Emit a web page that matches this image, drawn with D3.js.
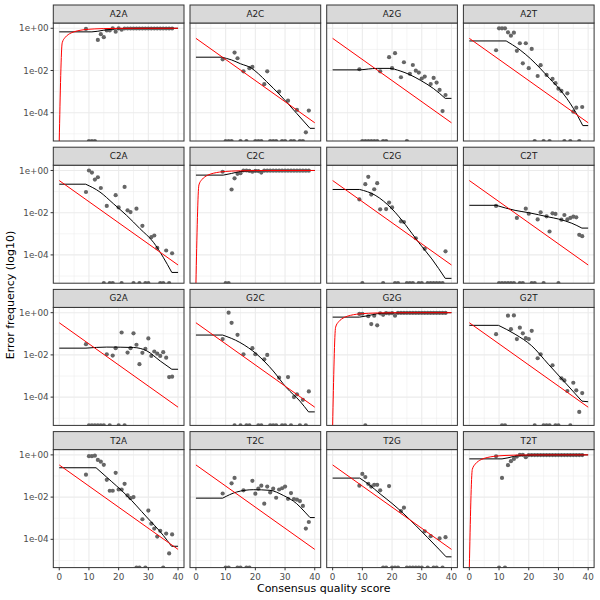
<!DOCTYPE html>
<html><head><meta charset="utf-8">
<script src="https://cdn.jsdelivr.net/npm/d3@7"></script>
<style>body{margin:0;background:#fff}svg{display:block}</style>
</head><body>
<svg id="chart" width="600" height="600"></svg>
<script>
// ---- DATA ----
const transitions = ["A2A","A2C","A2G","A2T","C2A","C2C","C2G","C2T","G2A","G2C","G2G","G2T","T2A","T2C","T2G","T2T"];
const xTicks = [0, 10, 20, 30, 40];
const xMinor = [5, 15, 25, 35];
const yTicks = [1, 1e-2, 1e-4];
const yTickLabels = ["1e+00", "1e-02", "1e-04"];
const yMinor = [1e-1, 1e-3, 1e-5];

// nominal error rates (Q, frequency)
const nominalOff = [[0, 0.3333], [40, 0.00003333]];
const nominalDiag = [[0,0],[1,0.2057],[2,0.3690],[3,0.4988],[4,0.6019],[5,0.6838],[6,0.7488],[7,0.8005],[8,0.8415],[9,0.8741],[10,0.9],[12,0.9369],[15,0.9684],[20,0.99],[25,0.9968],[30,0.999],[40,0.9999]];

// observed: [Q, log10 frequency]; zero*: Q with observed frequency 0
const obsA2A = [[9,-0.03],[13,-0.55],[14,-0.28],[15,-0.42],[16,-0.1],[17,-0.1],[18,0],[19,-0.16],[20,0],[21,-0.07],[22,-0.01],[23,-0.01],[24,-0.01],[25,-0.01],[26,-0.01],[27,-0.01],[28,-0.01],[29,-0.01],[30,-0.01],[31,-0.01],[32,-0.01],[33,-0.01],[34,-0.01],[35,-0.01],[36,-0.01],[37,-0.01],[38,-0.01]];
const zeroA2A = [10,11,12];
const obsA2C = [[9,-1.47],[13,-1.15],[14,-1.42],[16,-2.04],[18,-1.89],[19,-1.83],[23,-2.65],[24,-2.04],[28,-3.0],[31,-3.43],[34,-3.87],[37,-4.93],[38,-3.9]];
const zeroA2C = [10,11,12,15,17,20,21,22,25,26,27,29,30,32,33,35,36];
const obsA2G = [[9,-1.94],[16,-2.04],[19,-1.37],[20,-1.89],[21,-1.18],[23,-2.32],[24,-1.61],[26,-2.16],[27,-1.74],[28,-2.01],[29,-2.1],[30,-2.38],[31,-2.29],[33,-2.64],[34,-2.35],[35,-2.57],[36,-2.92],[37,-3.92],[38,-3.16]];
const zeroA2G = [10,11,12,13,14,15,17,18,25];
const obsA2T = [[9,-1.04],[10,0],[11,0],[12,0],[13,-0.19],[14,-0.35],[15,-0.21],[16,-1.07],[17,-0.71],[18,-1.66],[19,-0.71],[20,-1.89],[21,-0.98],[23,-2.26],[24,-1.75],[26,-2.21],[28,-2.4],[29,-2.6],[30,-2.86],[31,-2.97],[33,-3.08],[35,-3.95],[36,-3.76],[38,-3.73]];
const zeroA2T = [22,25,27,32,34,37];
const obsC2A = [[9,-1.02],[10,0],[11,-0.1],[12,-0.43],[13,-0.32],[14,-0.83],[16,-1.68],[19,-1.17],[20,-1.75],[22,-0.78],[23,-1.89],[24,-1.97],[26,-1.81],[28,-2.62],[31,-3.16],[32,-3.08],[33,-3.67],[36,-3.79],[38,-3.92]];
const zeroC2A = [15,17,18,21,25,27,29,30,34,35,37];
const obsC2C = [[9,-0.06],[12,-0.9],[13,-0.37],[14,-0.16],[15,-0.13],[16,0],[17,0],[18,-0.02],[19,-0.06],[20,-0.02],[21,-0.03],[22,-0.1],[23,-0.01],[24,-0.01],[25,-0.01],[26,-0.01],[27,-0.01],[28,-0.01],[29,-0.01],[30,-0.01],[31,-0.01],[32,-0.01],[33,-0.01],[34,-0.01],[35,-0.01],[36,-0.01],[37,-0.01],[38,-0.01]];
const zeroC2C = [10,11];
const obsC2G = [[9,-1.37],[11,-0.65],[12,-0.3],[13,-1.14],[14,-0.89],[15,-0.6],[16,-1.84],[18,-1.83],[19,-1.52],[20,-1.75],[23,-2.41],[24,-2.44],[28,-3.21],[31,-3.71],[38,-3.83]];
const zeroC2G = [10,17,21,22,25,26,27,29,30,32,33,34,35,36,37];
const obsC2T = [[9,-1.68],[16,-2.25],[19,-1.81],[20,-2.05],[23,-2.32],[24,-1.98],[26,-2.17],[27,-2.89],[28,-2.03],[29,-2.06],[31,-2.33],[32,-2.11],[33,-2.32],[34,-2.25],[35,-2.19],[36,-2.22],[37,-3.05],[38,-3.11]];
const zeroC2T = [10,11,12,13,14,15,17,18,21,22,25,30];
const obsG2A = [[9,-1.49],[16,-1.97],[18,-2.03],[19,-1.68],[21,-0.94],[23,-1.89],[24,-1.68],[25,-0.98],[26,-1.52],[27,-2.44],[28,-1.9],[29,-1.71],[30,-1.22],[31,-2.05],[32,-1.84],[33,-1.94],[34,-2.05],[35,-1.87],[36,-2.13],[37,-3.05],[38,-3.03]];
const zeroG2A = [10,11,12,13,14,15,17,20,22];
const obsG2C = [[9,-1.25],[11,0],[12,-0.48],[14,-1.05],[16,-1.97],[19,-1.68],[20,-1.97],[23,-2.21],[24,-2.0],[28,-3.08],[31,-3.05],[33,-4.0],[34,-3.87],[36,-4.13],[38,-3.73]];
const zeroG2C = [13,15,17,18,21,22,25,26,27,29,30,32,35,37];
const obsG2G = [[9,-0.06],[10,-0.05],[12,-0.17],[13,-0.54],[14,-0.14],[15,-0.6],[16,-0.03],[17,-0.1],[18,-0.02],[19,-0.04],[20,-0.02],[21,-0.14],[22,-0.01],[23,-0.01],[24,-0.01],[25,-0.01],[26,-0.01],[27,-0.01],[28,-0.01],[29,-0.01],[30,-0.01],[31,-0.01],[32,-0.01],[33,-0.01],[34,-0.01],[35,-0.01],[36,-0.01],[37,-0.01],[38,-0.01]];
const zeroG2G = [11];
const obsG2T = [[9,-1.02],[13,-0.14],[14,-0.78],[15,-0.13],[16,-1.25],[17,-0.71],[18,-0.98],[19,-1.21],[20,-1.25],[21,-0.86],[23,-2.16],[24,-1.97],[28,-2.49],[31,-3.11],[32,-3.21],[33,-3.71],[35,-3.32],[36,-3.68],[37,-4.7],[38,-3.81]];
const zeroG2T = [11,12,22,25,26,27,29,30,34];
const obsT2A = [[9,-0.94],[10,-0.06],[11,-0.06],[12,-0.04],[13,-0.24],[14,-0.32],[15,-0.47],[16,-1.18],[17,-1.7],[18,-1.7],[19,-0.85],[20,-1.64],[21,-1.64],[22,-1.37],[23,-1.92],[24,-2.05],[25,-2.0],[28,-3.05],[30,-2.64],[31,-3.26],[32,-3.49],[33,-3.87],[34,-3.6],[36,-3.73],[37,-4.67],[38,-3.77]];
const zeroT2A = [26,27,29,35];
const obsT2C = [[9,-1.83],[12,-1.35],[13,-1.09],[16,-1.68],[19,-1.23],[20,-1.84],[21,-1.6],[22,-1.46],[23,-2.31],[24,-1.5],[25,-1.78],[26,-1.6],[27,-2.03],[28,-1.64],[29,-1.58],[30,-1.5],[31,-2.08],[32,-1.81],[33,-2.09],[34,-2.12],[35,-2.19],[36,-2.42],[37,-3.49],[38,-3.18]];
const zeroT2C = [10,11,14,15,17,18];
const obsT2G = [[9,-1.46],[10,-0.9],[11,-1.05],[12,-1.37],[13,-1.5],[14,-1.42],[15,-1.42],[16,-1.68],[19,-1.48],[23,-2.66],[24,-2.5],[31,-3.62],[33,-3.85],[36,-3.96],[38,-3.9]];
const zeroT2G = [17,18,20,21,22,25,26,27,28,29,30,32,34,35,37];
const obsT2T = [[9,-0.07],[11,-1.09],[13,-0.49],[14,-0.3],[15,-0.19],[16,-0.08],[17,0],[18,0],[19,-0.11],[20,-0.01],[21,-0.01],[22,-0.01],[23,-0.01],[24,-0.01],[25,-0.01],[26,-0.01],[27,-0.01],[28,-0.01],[29,-0.01],[30,-0.01],[31,-0.01],[32,-0.01],[33,-0.01],[34,-0.01],[35,-0.01],[36,-0.01],[37,-0.01],[38,-0.01]];
const zeroT2T = [10,12];

// estimated (fitted) error rates: [Q, log10 frequency]
const estA2A = [[0,-0.17],[11,-0.17],[13,-0.14],[15,-0.09],[18,-0.04],[21,-0.015],[25,-0.005],[40,0]];
const estA2C = [[0,-1.37],[8.6,-1.37],[12,-1.5],[15,-1.68],[18.7,-1.89],[21,-2.15],[23.8,-2.53],[28.3,-3.16],[33.9,-4.03],[38.4,-4.74],[40,-4.74]];
const estA2G = [[0,-1.97],[9.4,-1.97],[12,-1.93],[15,-1.9],[19,-1.9],[22.7,-2.02],[26,-2.2],[29.5,-2.46],[34,-2.86],[37.9,-3.32],[40,-3.32]];
const estA2T = [[0,-0.6],[12.4,-0.6],[14.5,-0.78],[17.1,-1.03],[20.5,-1.43],[23.8,-1.89],[27,-2.38],[30.6,-2.92],[35,-3.79],[38.2,-4.61],[40,-4.61]];
const estC2A = [[0,-0.65],[8.9,-0.65],[13.7,-1.02],[18.2,-1.57],[22.7,-2.13],[27.2,-2.76],[31.7,-3.4],[35,-4.11],[37.9,-4.83],[40,-4.83]];
const estC2C = [[0,-0.22],[9.2,-0.22],[12,-0.14],[14.9,-0.05],[18,-0.02],[25,-0.005],[40,0]];
const estC2G = [[0,-0.9],[9.1,-0.9],[14.3,-1.17],[19.9,-1.81],[24.4,-2.55],[28.9,-3.4],[33.4,-4.19],[37.9,-5.11],[40,-5.11]];
const estC2T = [[0,-1.65],[9,-1.65],[15.4,-1.89],[20,-2.0],[26.6,-2.2],[30,-2.3],[34.5,-2.5],[37.9,-2.73],[40,-2.73]];
const estG2A = [[0,-1.68],[9,-1.68],[16,-1.63],[25,-1.65],[29.5,-1.81],[34,-2.29],[37.9,-2.68],[40,-2.68]];
const estG2C = [[0,-1.06],[9,-1.06],[14.8,-1.41],[20.5,-1.97],[26,-2.76],[30.5,-3.56],[35,-4.19],[37.9,-4.7],[40,-4.7]];
const estG2G = [[0,-0.21],[9,-0.21],[12,-0.14],[15,-0.05],[18,-0.02],[25,-0.005],[40,0]];
const estG2T = [[0,-0.6],[9.8,-0.6],[15.4,-1.02],[21,-1.57],[26.6,-2.44],[32.3,-3.32],[37.9,-4.19],[40,-4.22]];
const estT2A = [[0,-0.61],[12.4,-0.61],[16,-1.06],[22.7,-1.92],[29.4,-2.94],[35,-3.81],[37.8,-4.33],[40,-4.33]];
const estT2C = [[0,-2.05],[9,-2.05],[13.7,-1.76],[19.3,-1.65],[24.9,-1.68],[29.4,-1.92],[33.9,-2.31],[36.7,-2.71],[38.4,-2.97],[40,-2.97]];
const estT2G = [[0,-1.1],[9.1,-1.1],[12,-1.38],[16,-1.85],[20,-2.3],[24,-2.8],[28,-3.35],[32,-3.92],[36,-4.5],[38.2,-4.83],[40,-4.83]];
const estT2T = [[0,-0.19],[11,-0.19],[13,-0.14],[15,-0.07],[18,-0.02],[22,-0.005],[40,0]];

const observed = {A2A:obsA2A,A2C:obsA2C,A2G:obsA2G,A2T:obsA2T,C2A:obsC2A,C2C:obsC2C,C2G:obsC2G,C2T:obsC2T,G2A:obsG2A,G2C:obsG2C,G2G:obsG2G,G2T:obsG2T,T2A:obsT2A,T2C:obsT2C,T2G:obsT2G,T2T:obsT2T};
const zeros = {A2A:zeroA2A,A2C:zeroA2C,A2G:zeroA2G,A2T:zeroA2T,C2A:zeroC2A,C2C:zeroC2C,C2G:zeroC2G,C2T:zeroC2T,G2A:zeroG2A,G2C:zeroG2C,G2G:zeroG2G,G2T:zeroG2T,T2A:zeroT2A,T2C:zeroT2C,T2G:zeroT2G,T2T:zeroT2T};
const estimated = {A2A:estA2A,A2C:estA2C,A2G:estA2G,A2T:estA2T,C2A:estC2A,C2C:estC2C,C2G:estC2G,C2T:estC2T,G2A:estG2A,G2C:estG2C,G2G:estG2G,G2T:estG2T,T2A:estT2A,T2C:estT2C,T2G:estT2G,T2T:estT2T};

// ---- LAYOUT ----
const svg = d3.select("#chart");
const FONT = "DejaVu Sans, sans-serif";
const panelW = 130.7, panelH = 118, stripH = 18;
const left0 = 53.3, colStep = 136.7, top0 = 5, rowStep = 142.2;

transitions.forEach((t, i) => {
  const c = i % 4, r = Math.floor(i / 4);
  const px = left0 + c * colStep;
  const st = top0 + r * rowStep;
  const py = st + stripH;
  const x = d3.scaleLinear().domain([-2, 42]).range([px, px + panelW]);
  const y = d3.scaleLog().domain([Math.pow(10, -5.34), Math.pow(10, 0.25)]).range([py + panelH, py]);
  const yv = v => v > 0 ? y(v) : py + panelH; // zeros (-Inf) sit on the panel edge
  const g = svg.append("g");
  const clipId = "clip" + i;
  svg.append("clipPath").attr("id", clipId).append("rect")
    .attr("x", px).attr("y", py).attr("width", panelW).attr("height", panelH);

  g.append("rect").attr("x", px).attr("y", py).attr("width", panelW).attr("height", panelH).attr("fill", "#fff");
  // grid
  const grid = g.append("g").attr("stroke", "#ebebeb");
  grid.selectAll(".mx").data(xMinor).join("line")
    .attr("x1", d => x(d)).attr("x2", d => x(d)).attr("y1", py).attr("y2", py + panelH).attr("stroke-width", 0.55);
  grid.selectAll(".my").data(yMinor).join("line").attr("class","my")
    .attr("y1", d => y(d)).attr("y2", d => y(d)).attr("x1", px).attr("x2", px + panelW).attr("stroke-width", 0.55);
  grid.selectAll(".Mx").data(xTicks).join("line").attr("class","Mx")
    .attr("x1", d => x(d)).attr("x2", d => x(d)).attr("y1", py).attr("y2", py + panelH).attr("stroke-width", 1.1);
  grid.selectAll(".My").data(yTicks).join("line").attr("class","My")
    .attr("y1", d => y(d)).attr("y2", d => y(d)).attr("x1", px).attr("x2", px + panelW).attr("stroke-width", 1.1);

  const content = g.append("g").attr("clip-path", `url(#${clipId})`);
  const pts = observed[t].map(d => [d[0], Math.pow(10, d[1])]).concat(zeros[t].map(q => [q, 0]));
  content.selectAll("circle").data(pts).join("circle")
    .attr("cx", d => x(d[0])).attr("cy", d => yv(d[1])).attr("r", 2.1).attr("fill", "#666666");

  // estimated: straight flat ends, smooth monotone middle
  const est = estimated[t].map(d => [d[0], Math.pow(10, d[1])]);
  const n = est.length;
  const lin = d3.line().x(d => x(d[0])).y(d => yv(d[1]));
  const smooth = d3.line().x(d => x(d[0])).y(d => yv(d[1])).curve(d3.curveMonotoneX);
  const estPath = lin(est.slice(0, 2)) + smooth(est.slice(1, n - 1)).replace(/^M/, "L") + lin(est.slice(n - 2)).replace(/^M/, "L");
  content.append("path").attr("fill", "none").attr("stroke", "#000").attr("stroke-width", 1)
    .attr("stroke-linejoin", "round").attr("d", estPath);

  const diag = t[0] === t[2];
  const nom = diag ? nominalDiag : nominalOff;
  content.append("path").datum(nom).attr("fill", "none").attr("stroke", "#ff0000").attr("stroke-width", 1)
    .attr("d", d3.line().x(d => x(d[0])).y(d => yv(d[1])).curve(diag ? d3.curveMonotoneX : d3.curveLinear));

  // border
  g.append("rect").attr("x", px).attr("y", py).attr("width", panelW).attr("height", panelH)
    .attr("fill", "none").attr("stroke", "#333333").attr("stroke-width", 1);
  // strip
  g.append("rect").attr("x", px).attr("y", st).attr("width", panelW).attr("height", stripH)
    .attr("fill", "#d9d9d9").attr("stroke", "#333333").attr("stroke-width", 1);
  g.append("text").attr("x", px + panelW / 2).attr("y", st + stripH / 2).attr("dy", "0.35em")
    .attr("text-anchor", "middle").attr("font-family", FONT).attr("font-size", 8.8).attr("fill", "#1a1a1a").text(t);

  if (c === 0) {
    const ya = g.append("g");
    ya.selectAll("line").data(yTicks).join("line")
      .attr("x1", px - 2.7).attr("x2", px).attr("y1", d => y(d)).attr("y2", d => y(d)).attr("stroke", "#333333").attr("stroke-width", 1);
    ya.selectAll("text").data(yTicks).join("text")
      .attr("x", px - 4.6).attr("y", d => y(d)).attr("dy", "0.35em").attr("text-anchor", "end")
      .attr("font-family", FONT).attr("font-size", 8.8).attr("fill", "#4d4d4d")
      .text((d, k) => yTickLabels[k]);
  }
  if (r === 3) {
    const xa = g.append("g");
    xa.selectAll("line").data(xTicks).join("line")
      .attr("x1", d => x(d)).attr("x2", d => x(d)).attr("y1", py + panelH).attr("y2", py + panelH + 2.7).attr("stroke", "#333333").attr("stroke-width", 1);
    xa.selectAll("text").data(xTicks).join("text")
      .attr("x", d => x(d)).attr("y", py + panelH + 9.8).attr("dy", "0.35em").attr("text-anchor", "middle")
      .attr("font-family", FONT).attr("font-size", 8.8).attr("fill", "#4d4d4d").text(d => d);
  }
});

svg.append("text").attr("x", (left0 + left0 + 3 * colStep + panelW) / 2).attr("y", 588).attr("dy", "0.35em")
  .attr("text-anchor", "middle").attr("font-family", FONT).attr("font-size", 11).attr("fill", "#000")
  .text("Consensus quality score");
svg.append("text").attr("transform", "translate(10,295) rotate(-90)").attr("dy", "0.35em")
  .attr("text-anchor", "middle").attr("font-family", FONT).attr("font-size", 11).attr("fill", "#000")
  .text("Error frequency (log10)");
</script>
</body></html>
